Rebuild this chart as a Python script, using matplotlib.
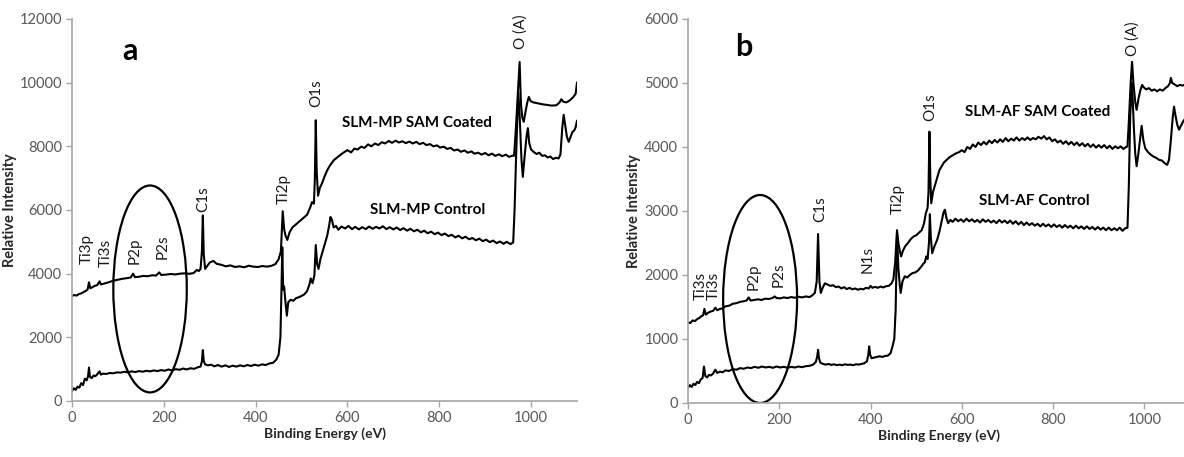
import numpy as np
import matplotlib
matplotlib.use("Agg")
from matplotlib import pyplot as plt
from matplotlib.patches import Ellipse

plt.rcParams["font.family"] = ["Lato", "DejaVu Sans"]

# (binding energy eV, relative intensity)
a_coated = [
    (0, 3300), (5, 3330), (10, 3310), (15, 3360), (20, 3380), (25, 3420), (30, 3460), (34, 3500),
    (37, 3730), (40, 3540), (45, 3580), (50, 3620), (55, 3640), (60, 3760), (63, 3660), (70, 3690),
    (80, 3730), (90, 3780), (100, 3810), (110, 3840), (120, 3860), (128, 3880), (133, 4000), (137, 3890),
    (145, 3900), (155, 3930), (165, 3920), (175, 3950), (183, 3940), (190, 4040), (194, 3960), (205, 3970),
    (215, 3990), (225, 3975), (235, 4000), (245, 4010), (255, 3995), (265, 4020), (272, 4120), (276, 4080),
    (280, 4150), (283, 4700), (285, 5830), (287, 4600), (290, 4150), (295, 4250), (300, 4350), (308, 4400),
    (315, 4310), (325, 4280), (335, 4230), (345, 4260), (355, 4210), (365, 4230), (375, 4200), (385, 4250),
    (395, 4220), (405, 4210), (415, 4240), (425, 4220), (435, 4250), (443, 4300), (450, 4450), (455, 4700),
    (459, 5960), (462, 5400), (465, 5200), (469, 5060), (474, 5300), (480, 5450), (488, 5550), (496, 5650),
    (505, 5760), (512, 5850), (518, 6050), (523, 6250), (527, 6200), (529, 7000), (531, 8820), (533, 7200),
    (536, 6450), (540, 6700), (545, 6850), (550, 7050), (556, 7250), (562, 7400), (570, 7560), (580, 7680),
    (590, 7790), (600, 7880), (608, 7810), (615, 7930), (622, 7900), (630, 7990), (637, 7950), (645, 8060),
    (652, 8000), (660, 8090), (667, 8040), (675, 8130), (682, 8090), (690, 8170), (697, 8110), (705, 8180),
    (712, 8120), (720, 8160), (727, 8100), (735, 8150), (742, 8090), (750, 8140), (757, 8070), (765, 8110),
    (772, 8040), (780, 8070), (787, 8000), (795, 8030), (802, 7960), (810, 7990), (817, 7920), (825, 7950),
    (832, 7870), (840, 7900), (847, 7830), (855, 7870), (862, 7800), (870, 7840), (877, 7770), (885, 7800),
    (892, 7740), (900, 7790), (907, 7720), (915, 7770), (922, 7700), (930, 7750), (937, 7690), (945, 7740),
    (952, 7670), (960, 7710), (963, 7700), (967, 8600), (971, 9600), (975, 10650), (978, 9300), (981, 8900),
    (984, 8770), (988, 9100), (992, 9400), (995, 9550), (999, 9420), (1005, 9380), (1015, 9350), (1025, 9320),
    (1035, 9300), (1045, 9280), (1055, 9290), (1062, 9380), (1066, 9480), (1070, 9400), (1077, 9380),
    (1085, 9450), (1092, 9550), (1097, 9650), (1100, 10000),
]

a_control = [
    (0, 320), (4, 400), (8, 350), (12, 450), (16, 420), (20, 560), (24, 500), (28, 700), (32, 650),
    (35, 780), (37, 1050), (39, 760), (43, 720), (47, 800), (51, 780), (55, 840), (60, 930), (63, 830),
    (68, 860), (75, 850), (82, 880), (90, 870), (98, 900), (106, 890), (114, 920), (122, 900), (130, 930),
    (138, 910), (146, 940), (154, 920), (162, 950), (170, 930), (178, 960), (186, 940), (194, 970),
    (202, 950), (210, 990), (218, 960), (226, 1000), (234, 980), (242, 1020), (250, 990), (258, 1030),
    (266, 1010), (274, 1060), (280, 1080), (283, 1250), (285, 1600), (287, 1250), (290, 1150), (296, 1120),
    (303, 1140), (310, 1090), (318, 1130), (326, 1080), (334, 1120), (342, 1070), (350, 1110), (358, 1080),
    (366, 1120), (374, 1090), (382, 1130), (390, 1100), (398, 1140), (406, 1110), (414, 1150), (422, 1130),
    (430, 1180), (438, 1200), (445, 1300), (450, 1450), (454, 2000), (457, 4000), (458, 4830), (460, 3500),
    (462, 3600), (465, 3100), (468, 2680), (471, 3100), (476, 3180), (482, 3150), (488, 3230), (494, 3260),
    (500, 3300), (506, 3350), (512, 3450), (517, 3650), (520, 3850), (524, 3700), (528, 3950), (531, 4900),
    (534, 4300), (537, 4150), (541, 4450), (546, 4700), (551, 4950), (556, 5200), (560, 5500), (563, 5780),
    (566, 5700), (570, 5450), (575, 5500), (580, 5380), (587, 5480), (595, 5420), (602, 5500), (610, 5400),
    (617, 5470), (625, 5390), (632, 5460), (640, 5400), (647, 5480), (655, 5410), (662, 5470), (670, 5420),
    (677, 5490), (685, 5400), (692, 5460), (700, 5390), (707, 5450), (715, 5370), (722, 5430), (730, 5350),
    (737, 5410), (745, 5330), (752, 5380), (760, 5300), (767, 5350), (775, 5270), (782, 5320), (790, 5240),
    (797, 5290), (805, 5210), (812, 5260), (820, 5180), (827, 5220), (835, 5140), (842, 5190), (850, 5110),
    (857, 5160), (865, 5080), (872, 5120), (880, 5050), (887, 5100), (895, 5020), (902, 5070), (910, 4990),
    (917, 5040), (925, 4960), (932, 5010), (940, 4940), (947, 5000), (955, 4930), (961, 4980), (964, 6000),
    (968, 8000), (972, 9700), (975, 9000), (979, 7600), (982, 7040), (986, 7700), (990, 8300), (993, 8570),
    (996, 8100), (1000, 7900), (1006, 7820), (1012, 7760), (1018, 7800), (1024, 7700), (1030, 7720),
    (1036, 7650), (1042, 7680), (1048, 7600), (1054, 7640), (1060, 7620), (1064, 7750), (1068, 8600),
    (1071, 8990), (1074, 8700), (1078, 8300), (1082, 8140), (1086, 8300), (1090, 8450), (1094, 8500),
    (1097, 8600), (1100, 8800),
]

b_coated = [
    (0, 1260), (5, 1250), (10, 1290), (15, 1280), (20, 1310), (25, 1330), (30, 1360), (33, 1370),
    (36, 1470), (39, 1380), (44, 1410), (50, 1430), (55, 1440), (60, 1490), (64, 1450), (70, 1470),
    (76, 1480), (82, 1510), (90, 1520), (98, 1550), (106, 1560), (114, 1580), (122, 1590), (128, 1600),
    (133, 1650), (137, 1600), (145, 1610), (153, 1620), (161, 1610), (169, 1630), (177, 1625), (185, 1640),
    (190, 1665), (194, 1640), (202, 1635), (210, 1650), (218, 1640), (226, 1655), (234, 1645), (242, 1660),
    (250, 1650), (258, 1665), (266, 1655), (272, 1680), (278, 1720), (282, 1900), (285, 2640), (288, 1900),
    (291, 1720), (295, 1800), (300, 1870), (306, 1850), (312, 1830), (318, 1840), (324, 1810), (330, 1820),
    (336, 1790), (342, 1810), (348, 1780), (354, 1800), (360, 1775), (366, 1790), (372, 1770), (378, 1785),
    (384, 1775), (390, 1800), (396, 1790), (400, 1830), (404, 1800), (410, 1815), (416, 1800), (422, 1820),
    (428, 1805), (434, 1825), (440, 1830), (446, 1870), (450, 1930), (454, 2200), (458, 2700), (461, 2500),
    (464, 2380), (467, 2290), (471, 2380), (476, 2450), (482, 2500), (488, 2560), (494, 2600), (500, 2620),
    (506, 2660), (512, 2700), (517, 2800), (521, 2960), (525, 3050), (527, 3300), (529, 4240), (531, 3500),
    (533, 3120), (537, 3300), (541, 3400), (546, 3520), (551, 3640), (556, 3700), (561, 3760), (567, 3800),
    (573, 3840), (580, 3870), (587, 3900), (594, 3920), (600, 3950), (606, 3920), (612, 4000), (618, 3970),
    (624, 4040), (630, 4000), (636, 4070), (642, 4030), (648, 4080), (654, 4040), (660, 4100), (666, 4060),
    (672, 4110), (678, 4070), (684, 4120), (690, 4080), (696, 4140), (702, 4090), (708, 4130), (714, 4100),
    (720, 4150), (726, 4100), (732, 4140), (738, 4110), (744, 4150), (750, 4110), (756, 4140), (762, 4120),
    (768, 4160), (774, 4130), (780, 4170), (786, 4120), (792, 4150), (798, 4090), (804, 4120), (810, 4070),
    (816, 4100), (822, 4050), (828, 4090), (834, 4040), (840, 4080), (846, 4030), (852, 4070), (858, 4020),
    (864, 4060), (870, 4010), (876, 4050), (882, 4000), (888, 4040), (894, 3990), (900, 4030), (906, 3990),
    (912, 4030), (918, 3980), (924, 4020), (930, 3970), (936, 4010), (942, 3980), (948, 4010), (954, 3970),
    (960, 4000), (963, 4010), (966, 4400), (970, 5000), (973, 5330), (976, 5000), (980, 4700), (983, 4580),
    (987, 4750), (991, 4880), (995, 4970), (999, 4930), (1004, 4900), (1010, 4920), (1016, 4880),
    (1022, 4900), (1028, 4870), (1034, 4900), (1040, 4880), (1046, 4920), (1052, 4950), (1056, 5000),
    (1058, 5080), (1061, 5000), (1066, 4980), (1072, 4950), (1078, 4970), (1084, 4960), (1090, 4980),
    (1096, 4970), (1100, 4990),
]

b_control = [
    (0, 240), (4, 280), (8, 250), (12, 300), (16, 280), (20, 330), (24, 310), (28, 370), (32, 390),
    (35, 570), (38, 420), (42, 400), (46, 440), (50, 430), (55, 460), (60, 520), (64, 470), (70, 490),
    (76, 480), (82, 510), (90, 500), (98, 530), (106, 520), (114, 545), (122, 535), (130, 555), (138, 545),
    (146, 565), (154, 550), (162, 570), (170, 555), (178, 565), (186, 550), (194, 570), (202, 555),
    (210, 565), (218, 550), (226, 565), (234, 555), (242, 570), (250, 560), (258, 575), (266, 580),
    (274, 600), (280, 640), (283, 720), (285, 830), (287, 700), (290, 630), (296, 610), (302, 600),
    (308, 610), (314, 595), (320, 605), (326, 590), (332, 600), (338, 590), (344, 605), (350, 595),
    (356, 600), (362, 590), (368, 605), (374, 600), (380, 610), (386, 620), (392, 650), (395, 750),
    (397, 885), (399, 760), (402, 700), (408, 710), (414, 720), (420, 730), (426, 720), (432, 735),
    (438, 740), (444, 780), (448, 880), (452, 1000), (455, 1450), (457, 2300), (458, 2650), (461, 2100),
    (464, 1850), (466, 1720), (470, 1900), (475, 1980), (480, 1960), (486, 2000), (492, 2030), (498, 2040),
    (504, 2070), (510, 2120), (515, 2170), (519, 2200), (522, 2290), (525, 2250), (528, 2500), (530, 2950),
    (532, 2600), (535, 2340), (540, 2450), (546, 2550), (551, 2680), (556, 2850), (560, 2980), (563, 3020),
    (566, 2900), (570, 2810), (575, 2860), (580, 2830), (586, 2880), (592, 2840), (598, 2870), (604, 2830),
    (610, 2880), (616, 2840), (622, 2870), (628, 2830), (634, 2860), (640, 2820), (646, 2870), (652, 2830),
    (658, 2860), (664, 2820), (670, 2850), (676, 2810), (682, 2860), (688, 2820), (694, 2850), (700, 2810),
    (706, 2850), (712, 2800), (718, 2840), (724, 2790), (730, 2830), (736, 2780), (742, 2820), (748, 2780),
    (754, 2810), (760, 2770), (766, 2800), (772, 2760), (778, 2800), (784, 2760), (790, 2790), (796, 2750),
    (802, 2790), (808, 2750), (814, 2780), (820, 2740), (826, 2780), (832, 2740), (838, 2770), (844, 2730),
    (850, 2770), (856, 2730), (862, 2760), (868, 2720), (874, 2760), (880, 2720), (886, 2750), (892, 2710),
    (898, 2750), (904, 2710), (910, 2740), (916, 2700), (922, 2740), (928, 2700), (934, 2730), (940, 2700),
    (946, 2740), (952, 2690), (958, 2730), (963, 2740), (966, 3400), (969, 4500), (973, 5000), (977, 4300),
    (980, 3900), (983, 3700), (987, 3900), (991, 4150), (994, 4330), (998, 4100), (1002, 3980),
    (1008, 3920), (1014, 3880), (1020, 3850), (1026, 3830), (1032, 3800), (1038, 3790), (1044, 3750),
    (1050, 3720), (1054, 3800), (1058, 4100), (1062, 4450), (1065, 4630), (1068, 4500), (1072, 4350),
    (1076, 4270), (1080, 4330), (1085, 4400), (1090, 4450), (1095, 4500), (1100, 4550),
]

# peak labels: (text, eV, intensity at bottom of rotated label)
a_peaks = [("Ti3p", 33, 4300), ("Ti3s", 73, 4200), ("P2p", 137, 4300), ("P2s", 198, 4460),
           ("C1s", 286, 5930), ("Ti2p", 461, 6200), ("O1s", 532, 9240), ("O (A)", 977, 11050)]
b_peaks = [("Ti3s", 27, 1610), ("Ti3s", 57, 1610), ("P2p", 143, 1770), ("P2s", 198, 1820),
           ("C1s", 289, 2830), ("N1s", 393, 2030), ("Ti2p", 459, 2960), ("O1s", 530, 4400),
           ("O (A)", 975, 5420)]

a_yticks = [0, 2000, 4000, 6000, 8000, 10000, 12000]
b_yticks = [0, 1000, 2000, 3000, 4000, 5000, 6000]
xticks = [0, 200, 400, 600, 800, 1000]

fig = plt.figure(figsize=(11.84, 4.57), dpi=100)
ax_a = fig.add_axes([72 / 1184, 56 / 457, 505 / 1184, 382 / 457])
ax_b = fig.add_axes([688 / 1184, 54 / 457, 502 / 1184, 384 / 457])

axis_grey = "#a6a6a6"
tick_grey = "#595959"


def style(ax, ymax, yticks):
    ax.set_xlim(0, 1100)
    ax.set_ylim(0, ymax)
    ax.set_xticks(xticks)
    ax.set_yticks(yticks)
    for s in ["top", "right"]:
        ax.spines[s].set_visible(False)
    for s in ["left", "bottom"]:
        ax.spines[s].set_color(axis_grey)
        ax.spines[s].set_linewidth(1.2)
    ax.tick_params(axis="both", direction="out", length=4, width=1, color=axis_grey,
                   labelcolor=tick_grey, labelsize=10.5, pad=3)
    ax.set_xlabel("Binding Energy (eV)", fontsize=10, fontweight="bold", color="#262626", labelpad=2)
    ax.set_ylabel("Relative Intensity", fontsize=10.5, fontweight="bold", color="#262626", labelpad=2)


def draw(ax, coated, control, peaks, ymax, yticks, panel, coated_lbl, control_lbl, ell):
    for series in (coated, control):
        x, y = np.array(series).T
        ax.plot(x, y, color="black", lw=1.5)
    for txt, xv, yv in peaks:
        ax.text(xv, yv, txt, rotation=90, ha="center", va="bottom", fontsize=11, color="#1a1a1a")
    ax.text(*coated_lbl, fontsize=11, fontweight="bold", ha="center", va="center", color="black")
    ax.text(*control_lbl, fontsize=11, fontweight="bold", ha="center", va="center", color="black")
    ax.text(*panel, fontsize=22, fontweight="bold", ha="center", va="center")
    cx, cy, w, h = ell
    ax.add_patch(Ellipse((cx, cy), w, h, fill=False, edgecolor="black", lw=1.6))
    style(ax, ymax, yticks)


draw(ax_a, a_coated, a_control, a_peaks, 12000, a_yticks,
     (127, 11000, "a"), (752, 8720, "SLM-MP SAM Coated"), (774, 6000, "SLM-MP Control"),
     (170, 3520, 160, 6500))
draw(ax_b, b_coated, b_control, b_peaks, 6000, b_yticks,
     (122, 5560, "b"), (766, 4540, "SLM-AF SAM Coated"), (758, 3160, "SLM-AF Control"),
     (158, 1625, 162, 3250))

fig.savefig("out.png", dpi=100)
